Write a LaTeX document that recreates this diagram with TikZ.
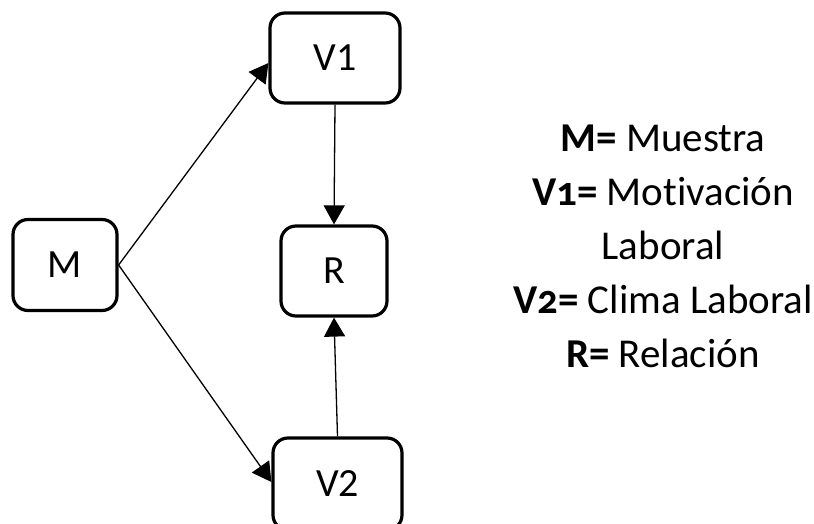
\documentclass[tikz,border=0pt]{standalone}
\usepackage{fontspec}
\setmainfont{Carlito}[Numbers=OldStyle,Ligatures={NoCommon,NoDiscretionary}]
\newfontfamily\boxfont{Carlito}
\usetikzlibrary{arrows.meta}
\begin{document}
\begin{tikzpicture}[x=1pt,y=-1pt,
  box/.style={draw=black,line width=3.2pt,rounded corners=15pt,fill=white,
    inner sep=0pt,font=\boxfont\fontsize{40}{44}\selectfont},
  conn/.style={line width=1.3pt,-{Triangle[length=19pt,width=21pt]}},
  leg/.style={anchor=base,font=\fontsize{41}{48}\selectfont,inner sep=0pt}]
\useasboundingbox (0,0) rectangle (814,524);
\node[box,minimum width=104pt,minimum height=91pt] (M) at (65,265) {M};
\node[box,minimum width=130pt,minimum height=90pt] (V1) at (335,58) {V1};
\node[box,minimum width=106pt,minimum height=90pt] (R) at (334,271) {R};
\node[box,minimum width=129pt,minimum height=92pt] (V2) at (337.5,484) {V2};
\draw[conn] (M.east) -- ([yshift=-5pt]V1.west);
\draw[conn] (M.east) -- ([yshift=2pt]V2.west);
\draw[conn] (V1.south) -- (R.north);
\draw[conn] (V2.north) -- (R.south);
\node[leg] (l1) at (663,152) {\textbf{M=} Muestra};
\node[leg] (l2) at (663,205) {\textbf{V1=} Motivación};
\node[leg] (l3) at (663,259) {Laboral};
\node[leg] (l4) at (663,313) {\textbf{V2=} Clima Laboral};
\node[leg] (l5) at (663,367) {\textbf{R=} Relación};
\end{tikzpicture}
\end{document}
